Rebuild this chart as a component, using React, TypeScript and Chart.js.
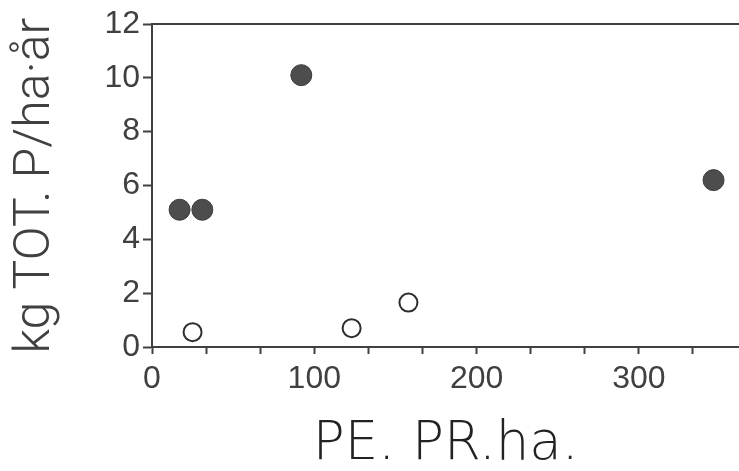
import React, { useEffect, useRef } from "react";
import { Chart, registerables } from "chart.js";

Chart.register(...registerables);

// Filled circles
const filledX = [17, 31, 92, 346];
const filledY = [5.1, 5.1, 10.1, 6.2];
// Open circles
const openX = [25, 123, 158];
const openY = [0.55, 0.7, 1.65];

const xTitle = "PE. PR.ha.";
const yTitle = "kg TOT. P/ha·år";
const yTicks = [0, 2, 4, 6, 8, 10, 12];
const xLabelTicks = [0, 100, 200, 300];

const ink = "#404040";
const tickFont = { family: "'Liberation Sans Narrow', 'Liberation Sans', sans-serif", size: 32 };
const xTitleFont = { family: "'DejaVu Sans', sans-serif", size: 53, weight: 200 as any };
const yTitleFont = { family: "Roboto, 'Liberation Sans', sans-serif", size: 50, weight: 300 as any };

const noPad = (s: any) => {
  s.paddingLeft = 0;
  s.paddingRight = 0;
  s.paddingTop = 0;
  s.paddingBottom = 0;
};

export default function App() {
  const ref = useRef<HTMLCanvasElement | null>(null);

  useEffect(() => {
    document.body.style.margin = "0";
    const canvas = ref.current!;
    const chart = new Chart(canvas, {
      type: "scatter",
      data: {
        datasets: [
          {
            label: "filled",
            data: filledX.map((x, i) => ({ x, y: filledY[i] })),
            pointRadius: 10.5,
            pointBackgroundColor: "#4d4d4d",
            pointBorderColor: "#3a3a3a",
            pointBorderWidth: 1,
          },
          {
            label: "open",
            data: openX.map((x, i) => ({ x, y: openY[i] })),
            pointRadius: 9,
            pointBackgroundColor: "#ffffff",
            pointBorderColor: "#2e2e2e",
            pointBorderWidth: 2,
          },
        ],
      },
      options: {
        animation: false,
        responsive: false,
        maintainAspectRatio: false,
        layout: { padding: 0 },
        plugins: { legend: { display: false }, tooltip: { enabled: false } },
        scales: {
          x: {
            type: "linear",
            position: "bottom",
            min: 0,
            max: 362,
            afterFit: (s: any) => { s.height = 124; noPad(s); },
            afterBuildTicks: (s: any) => {
              const t: any[] = [];
              for (let i = 0; i <= 10; i++) t.push({ value: (i * 100) / 3 });
              s.ticks = t;
            },
            border: { display: true, color: ink, width: 2 },
            grid: { display: true, drawOnChartArea: false, drawTicks: true, tickLength: 7, tickColor: ink, tickWidth: 2 },
            ticks: {
              color: ink, font: tickFont, padding: 6, maxRotation: 0, autoSkip: false,
              callback: (v: any) => {
                const n = Number(v);
                const m = xLabelTicks.find((t) => Math.abs(t - n) < 0.01);
                return m === undefined ? "" : String(m);
              },
            },
            title: { display: true, text: xTitle, color: "#222222", font: xTitleFont, padding: { top: 22, bottom: -6 } },
          },
          x2: {
            type: "linear", position: "top", min: 0, max: 362,
            afterFit: (s: any) => { s.height = 24; noPad(s); },
            border: { display: true, color: ink, width: 2 },
            grid: { display: false },
            ticks: { display: false },
          },
          y: {
            type: "linear", min: 0, max: 12,
            afterFit: (s: any) => { s.width = 152; noPad(s); },
            afterBuildTicks: (s: any) => { s.ticks = yTicks.map((value) => ({ value })); },
            border: { display: true, color: ink, width: 2 },
            grid: { display: true, drawOnChartArea: false, drawTicks: true, tickLength: 9, tickColor: ink, tickWidth: 2 },
            ticks: { color: ink, font: tickFont, padding: 3 },
            title: { display: true, text: yTitle, color: ink, font: yTitleFont, padding: { top: 6, bottom: 0 } },
          },
        },
      },
    });
    return () => chart.destroy();
  }, []);

  // canvas is slightly wider than the page so the point-overflow padding falls outside the view
  return (
    <div style={{ width: 739, height: 471, overflow: "hidden" }}>
      <canvas ref={ref} width={751} height={471} style={{ display: "block" }} />
    </div>
  );
}
